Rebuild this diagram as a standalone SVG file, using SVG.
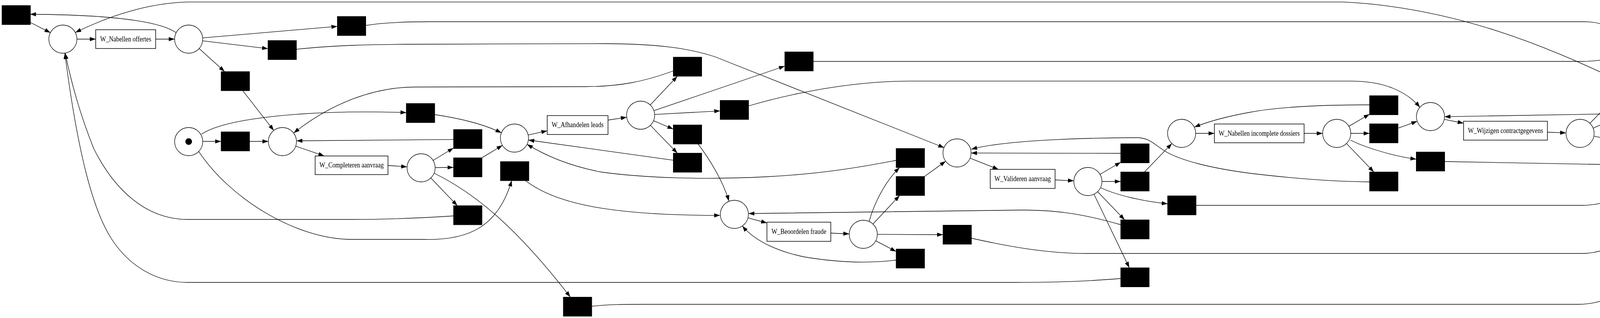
<svg xmlns="http://www.w3.org/2000/svg" width="4337" height="813" viewBox="0 0 4337 813">
<style>
.place{fill:#fff;stroke:#000;stroke-width:1.3}
.trans{fill:#000;stroke:#000;stroke-width:1}
.act{fill:#fff;stroke:#000;stroke-width:1.5}
.edge{fill:none;stroke:#000;stroke-width:1.3;marker-end:url(#arr)}
.lbl{font-family:"Liberation Serif","Times New Roman",serif;font-size:18.6px;fill:#000;text-anchor:middle}
</style>
<defs>
<marker id="arr" markerUnits="userSpaceOnUse" markerWidth="15" markerHeight="10.6" refX="15" refY="5.3" orient="auto" viewBox="0 0 15 10.6"><path d="M0,0 L15,5.3 L0,10.6 z" fill="#000"/></marker>
</defs>
<rect width="4337" height="813" fill="#fff"/>
<g id="connectors">
<path class="edge" d="M197,100 L245,100"/>
<path class="edge" d="M398.5,100 L447,100"/>
<path class="edge" d="M518.9,96.9 L863.5,67.4"/>
<path class="edge" d="M518.7,104.3 L686,124.4"/>
<path class="edge" d="M509.7,124.1 L575,183"/>
<path class="edge" d="M621.5,231.8 L700.9,333.6"/>
<path class="edge" d="M450,83 C420,62 330,38 77.2,36.5"/>
<path class="edge" d="M77,57 L129,83.6"/>
<path class="edge" d="M519,361.5 L566,361.5"/>
<path class="edge" d="M639,361.5 L687,361.5"/>
<path class="edge" d="M516,343 C580,300 800,280 1040.3,287.8"/>
<path class="edge" d="M1723,181.5 C1650,208 1590,221 1500,221.5 L1060,222.5 C960,223 850,262 752,340"/>
<path class="edge" d="M1160.8,356.7 L759,360"/>
<path class="edge" d="M757,373.7 L830,398.7"/>
<path class="edge" d="M993.3,423 L1042.1,426.5"/>
<path class="edge" d="M508,386 C590,510 760,612 900,612 L1080,612 C1200,616 1275,580 1310,461.5"/>
<path class="edge" d="M1345,461.5 C1420,520 1560,551 1843.4,550.6"/>
<path class="edge" d="M1108.7,410.3 L1160.8,378.5"/>
<path class="edge" d="M1114,428.5 L1160.8,428"/>
<path class="edge" d="M1233.8,403.4 L1286.2,371.6"/>
<path class="edge" d="M1113,293 C1180,303 1240,318 1283.6,339.6"/>
<path class="edge" d="M1102.9,455 L1170.7,525.8"/>
<path class="edge" d="M1161,552 C1100,556 1000,561 900,561 L480,561 C370,561 290,480 240,380 C200,280 180,200 167,136"/>
<path class="edge" d="M2869,712 C2800,718 2720,722 2600,722 L480,722 C400,722 330,680 285,610 C240,540 200,400 166,136"/>
<path class="edge" d="M1112,443 C1219,495.6 1325,585 1460,759.3"/>
<path class="edge" d="M1515,783 C1560,778 1600,778 1650,778 L4040,778 C4150,778 4240,700 4280.4,465"/>
<path class="edge" d="M1352.1,345.2 L1400.8,334.4"/>
<path class="edge" d="M1556.5,307 L1604.4,299.8"/>
<path class="edge" d="M1664.7,268.3 L1734,195"/>
<path class="edge" d="M1674.1,282.9 L2009,169"/>
<path class="edge" d="M1675.9,292.6 L1843.4,283.6"/>
<path class="edge" d="M1673.1,308.6 L1723.4,330"/>
<path class="edge" d="M1665,320.4 L1734,391.5"/>
<path class="edge" d="M1723.4,409.6 L1352.7,358"/>
<path class="edge" d="M1787,368 C1815,405 1850,460 1866,514"/>
<path class="edge" d="M2294,410 C2200,428 2100,445 1960,452 C1800,460 1650,455 1540,440 C1460,425 1400,400 1349.3,368.9"/>
<path class="edge" d="M1916,271 C2020,240 2180,207 2330,207.4 L3460,207.4 C3540,207.4 3600,232 3635,274.5"/>
<path class="edge" d="M2082,157 L4050,157 C4090,157 4110,150 4140,152 C4230,160 4280,280 4285,382"/>
<path class="edge" d="M936.5,65 C980,58 1030,55.5 1100,55.5 L4056,55.5 C4130,55.5 4170,100 4210,157 C4245,210 4275,290 4285,383"/>
<path class="edge" d="M759,126 C850,116 950,113 1100,113 L1540,111.5 C1680,112 1760,122 1830,145 L2417,377.5"/>
<path class="edge" d="M4129,198.6 C4000,140 3750,20 3439,5.2 L480,5.2 C380,8 280,40 193,83"/>
<path class="edge" d="M1914.8,557.2 L1963.4,570"/>
<path class="edge" d="M2126.8,596 L2174,598"/>
<path class="edge" d="M2869,574.5 C2790,552 2720,537 2620,537 L1916.4,546"/>
<path class="edge" d="M2294,665 C2230,673 2150,672 2060,657 C2000,645 1935,620 1900.5,577.7"/>
<path class="edge" d="M2225,566 C2238,520 2265,465 2303,428.3"/>
<path class="edge" d="M2234.7,572.8 L2303,500"/>
<path class="edge" d="M2246,599.2 L2414,600"/>
<path class="edge" d="M2241.9,615.7 L2294,643"/>
<path class="edge" d="M2367,451 L2420.8,412.1"/>
<path class="edge" d="M2487,609 C2580,630 2680,648 2780,648 L4050,648 C4150,648 4230,560 4271,460.5"/>
<path class="edge" d="M2483.5,404.3 L2556,433"/>
<path class="edge" d="M2701,460 L2749,462.3"/>
<path class="edge" d="M2869,392 L2486,391.2"/>
<path class="edge" d="M3506,465 C3400,464 3300,455 3200,443 C3100,430 3020,410 2980,385 C2950,365 2940,352 2910,352 C2820,352 2580,356 2486.5,381.5"/>
<path class="edge" d="M2816.1,445.8 L2869,414.8"/>
<path class="edge" d="M2821,464 L2869,464"/>
<path class="edge" d="M2818,480 C2860,500 2930,515 2989,521"/>
<path class="edge" d="M2809.9,490 L2879,562"/>
<path class="edge" d="M2800.6,496.5 L2891,684.4"/>
<path class="edge" d="M2929.8,439.7 L3000,366.9"/>
<path class="edge" d="M3062,525 L4050,525 C4120,525 4190,490 4256.5,447.5"/>
<path class="edge" d="M3061,341 L3108.8,341"/>
<path class="edge" d="M3506,268 C3400,268 3280,272 3200,287 C3150,296 3100,308 3057.5,325"/>
<path class="edge" d="M3338.5,341 L3386,341"/>
<path class="edge" d="M3453.1,322.9 L3506,292"/>
<path class="edge" d="M3458,341 L3506,341"/>
<path class="edge" d="M3457,358 C3490,375 3560,398 3625.6,407"/>
<path class="edge" d="M3447,366.9 L3517,439.7"/>
<path class="edge" d="M3579,327.7 L3628.1,310.1"/>
<path class="edge" d="M3699,413 L4249,423.2"/>
<path class="edge" d="M3697.3,305.1 L3746.7,315"/>
<path class="edge" d="M3961.4,338 L4009,339.7"/>
<path class="edge" d="M4129,291 L3698,298.4"/>
<path class="edge" d="M4070.2,315.2 L4140.5,243.2"/>
<path class="edge" d="M4078.1,327.8 L4129,305"/>
<path class="edge" d="M4080.3,348.1 L4129,357.8"/>
<path class="edge" d="M4202,381 L4253.2,405.9"/>
</g>
<g id="p_nab"><circle class="place" cx="161" cy="100" r="36"/></g>
<g id="p2"><circle class="place" cx="483" cy="100" r="36"/></g>
<g id="p_start"><circle class="place" cx="483" cy="362" r="36"/><circle cx="483" cy="362" r="8.5" fill="#000"/></g>
<g id="p5"><circle class="place" cx="723" cy="362" r="36"/></g>
<g id="p7"><circle class="place" cx="1078" cy="429" r="36"/></g>
<g id="p9"><circle class="place" cx="1317" cy="353" r="36"/></g>
<g id="p11"><circle class="place" cx="1640" cy="294.5" r="36"/></g>
<g id="p13"><circle class="place" cx="1880" cy="548" r="36"/></g>
<g id="p15"><circle class="place" cx="2210" cy="599" r="36"/></g>
<g id="p17"><circle class="place" cx="2450" cy="391" r="36"/></g>
<g id="p19"><circle class="place" cx="2785" cy="464" r="36"/></g>
<g id="p21"><circle class="place" cx="3025" cy="341" r="36"/></g>
<g id="p23"><circle class="place" cx="3422" cy="341" r="36"/></g>
<g id="p25"><circle class="place" cx="3662" cy="298" r="36"/></g>
<g id="p27"><circle class="place" cx="4045" cy="341" r="36"/></g>
<g id="p_end"><circle class="place" cx="4290.5" cy="424" r="41.5"/><circle class="place" cx="4290.5" cy="424" r="37"/><rect x="4280" y="413.5" width="21" height="21" fill="#000"/></g>
<g id="t0"><rect class="trans" x="5" y="14" width="73" height="49"/></g>
<g id="t4a"><rect class="trans" x="566" y="183" width="73" height="49"/></g>
<g id="t4b"><rect class="trans" x="566" y="337" width="73" height="49"/></g>
<g id="t5"><rect class="trans" x="686" y="103.5" width="73" height="49"/></g>
<g id="t6"><rect class="trans" x="863.5" y="42" width="73" height="49"/></g>
<g id="t7"><rect class="trans" x="1040" y="264.5" width="73" height="49"/></g>
<g id="t8a"><rect class="trans" x="1161" y="331" width="73" height="49"/></g>
<g id="t8b"><rect class="trans" x="1161" y="403.3" width="73" height="49"/></g>
<g id="t8c"><rect class="trans" x="1161" y="525.8" width="73" height="49"/></g>
<g id="t9"><rect class="trans" x="1281" y="413" width="73" height="49"/></g>
<g id="t10"><rect class="trans" x="1442" y="759.6" width="73" height="49"/></g>
<g id="t12a"><rect class="trans" x="1723.5" y="146" width="73" height="49"/></g>
<g id="t12b"><rect class="trans" x="1723.5" y="319.3" width="73" height="49"/></g>
<g id="t12c"><rect class="trans" x="1723.5" y="391.4" width="73" height="49"/></g>
<g id="t13a"><rect class="trans" x="1843.5" y="256.6" width="73" height="49"/></g>
<g id="t14"><rect class="trans" x="2009" y="132.6" width="73" height="49"/></g>
<g id="t16a"><rect class="trans" x="2294" y="379.5" width="73" height="49"/></g>
<g id="t16b"><rect class="trans" x="2294" y="451" width="73" height="49"/></g>
<g id="t16c"><rect class="trans" x="2294" y="636.6" width="73" height="49"/></g>
<g id="t17"><rect class="trans" x="2414" y="575.5" width="73" height="49"/></g>
<g id="t20a"><rect class="trans" x="2869" y="367.5" width="73" height="49"/></g>
<g id="t20b"><rect class="trans" x="2869" y="439.6" width="73" height="49"/></g>
<g id="t20c"><rect class="trans" x="2869" y="562" width="73" height="49"/></g>
<g id="t20d"><rect class="trans" x="2869" y="684.5" width="73" height="49"/></g>
<g id="t21"><rect class="trans" x="2989" y="500.6" width="73" height="49"/></g>
<g id="t24a"><rect class="trans" x="3506" y="244.6" width="73" height="49"/></g>
<g id="t24b"><rect class="trans" x="3506" y="316.4" width="73" height="49"/></g>
<g id="t24c"><rect class="trans" x="3506" y="439.6" width="73" height="49"/></g>
<g id="t25"><rect class="trans" x="3625.5" y="388.5" width="73" height="49"/></g>
<g id="t28a"><rect class="trans" x="4129" y="194.3" width="73" height="49"/></g>
<g id="t28b"><rect class="trans" x="4129" y="266" width="73" height="49"/></g>
<g id="t28c"><rect class="trans" x="4129" y="337.9" width="73" height="49"/></g>
<g id="a_nabellen_offertes"><rect class="act" x="245" y="76" width="153.5" height="48"/><text class="lbl" x="321.75" y="105.5" textLength="130.7" lengthAdjust="spacingAndGlyphs">W_Nabellen offertes</text></g>
<g id="a_completeren"><rect class="act" x="806.7" y="398.7" width="186.6" height="47.7"/><text class="lbl" x="900" y="428" textLength="164.5" lengthAdjust="spacingAndGlyphs">W_Completeren aanvraag</text></g>
<g id="a_afhandelen"><rect class="act" x="1400.8" y="295.5" width="155.7" height="48.3"/><text class="lbl" x="1478.7" y="325.2" textLength="133" lengthAdjust="spacingAndGlyphs">W_Afhandelen leads</text></g>
<g id="a_beoordelen"><rect class="act" x="1963.4" y="568" width="163.4" height="49"/><text class="lbl" x="2045.1" y="598" textLength="140.3" lengthAdjust="spacingAndGlyphs">W_Beoordelen fraude</text></g>
<g id="a_valideren"><rect class="act" x="2535" y="433" width="166" height="48.7"/><text class="lbl" x="2618" y="463" textLength="144.5" lengthAdjust="spacingAndGlyphs">W_Valideren aanvraag</text></g>
<g id="a_incomplete"><rect class="act" x="3108.8" y="317" width="229.7" height="48"/><text class="lbl" x="3223.6" y="346.5" textLength="207.6" lengthAdjust="spacingAndGlyphs">W_Nabellen incomplete dossiers</text></g>
<g id="a_wijzigen"><rect class="act" x="3746.7" y="310" width="214.7" height="48.3"/><text class="lbl" x="3854" y="339.5" textLength="192.2" lengthAdjust="spacingAndGlyphs">W_Wijzigen contractgegevens</text></g>
</svg>
